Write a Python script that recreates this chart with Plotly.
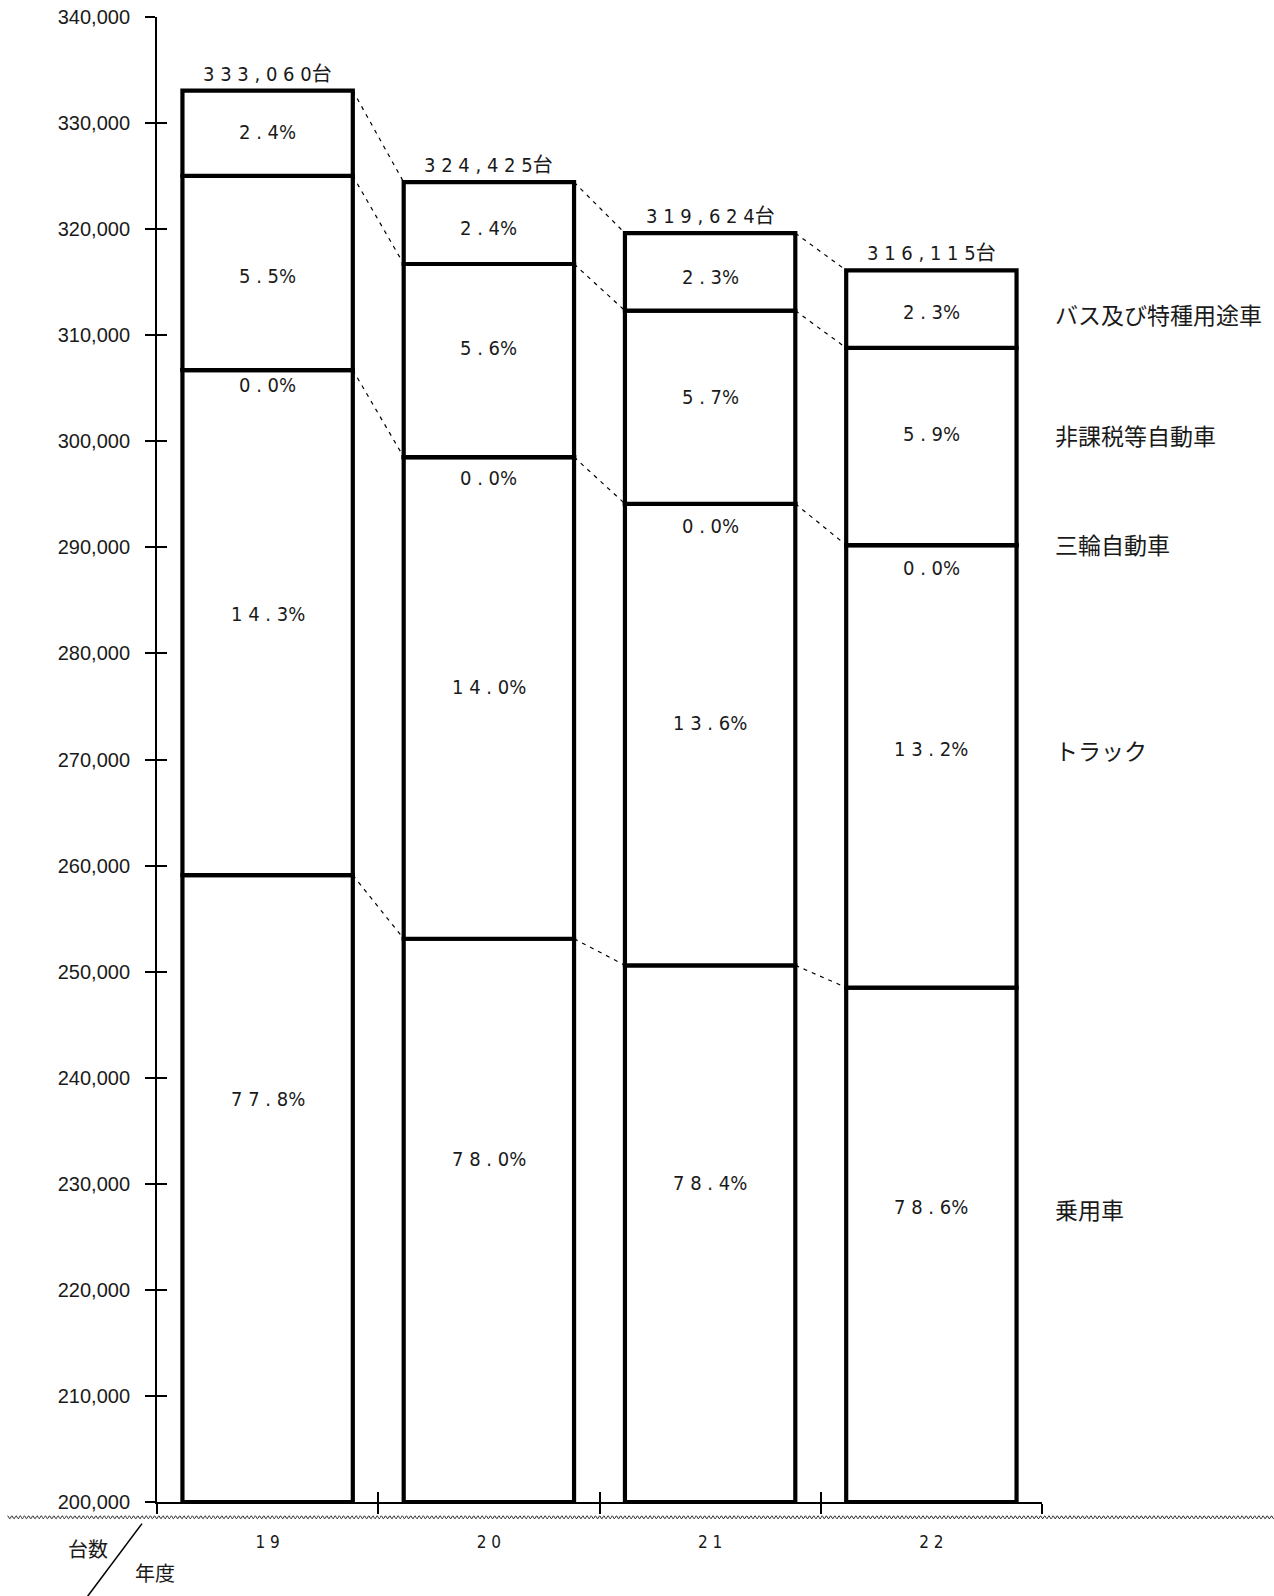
import numpy as np
import plotly.graph_objects as go

# ---------------- data ----------------
year_labels = ["19", "20", "21", "22"]
totals = [333060, 324425, 319624, 316115]
passenger = [259100, 253100, 250600, 248500]   # 乗用車
truck = [47600, 45400, 43500, 41700]           # トラック
three = [20, 15, 12, 10]                       # 三輪自動車
nontax = [18300, 18200, 18200, 18600]          # 非課税等自動車
bus = [8040, 7710, 7312, 7305]                 # バス及び特種用途車

passenger_pct = ["77.8", "78.0", "78.4", "78.6"]
truck_pct = ["14.3", "14.0", "13.6", "13.2"]
three_pct = ["0.0", "0.0", "0.0", "0.0"]
nontax_pct = ["5.5", "5.6", "5.7", "5.9"]
bus_pct = ["2.4", "2.4", "2.3", "2.3"]

categories = ["乗用車", "トラック", "三輪自動車", "非課税等自動車", "バス及び特種用途車"]
y_tick_values = list(range(200000, 340001, 10000))

# ---------------- layout constants (page pixels) ----------------
OFF = 0                      # body margin removed by post_script below
W, H = 1274, 1596
PL, PR, PT, PB = 156.7, 1042, 16.7, 1501.7   # plot area in page pixels
L, R, T, B = PL - OFF, PR - OFF, PT - OFF, PB - OFF
AXIS_MIN, AXIS_MAX = 200000, 340000
BAR_W = 0.77
NUM_FONT = "Liberation Sans Narrow, DejaVu Sans Condensed, Noto Sans CJK JP, sans-serif"
JP_FONT = "Noto Sans CJK JP, sans-serif"
TXT = "#1a1a1a"

# label placement nudges in pixels (positive = up), per segment per bar
PASS_SHIFT = -220
THREE_SHIFT = -21
LABEL_NUDGE = [
    [-4, 0, 2, 1],      # passenger
    [9, 11, 12, 17],    # truck
    [6, 0, -1, -2],     # three-wheel
    [-3, 13, 10, 12],   # non-taxable
    [1, -5, -5, -3],    # bus
]
RIGHT_NUDGE = [-1, 16, 1, 11, -5]


def pxx(px):
    return (px - OFF - L) / (R - L)


def pxy(py):
    return (B - (py - OFF)) / (B - T)


def spaced(s):
    return " ".join(s)


x = list(range(len(year_labels)))
series = [passenger, truck, three, nontax, bus]
pcts = [passenger_pct, truck_pct, three_pct, nontax_pct, bus_pct]

fig = go.Figure()

bases_all = []
tops_all = []
for k, vals in enumerate(series):
    if k == 0:
        base = [AXIS_MIN] * len(x)
        top = list(vals)
    else:
        base = tops_all[-1]
        top = [b + v for b, v in zip(base, vals)]
    bases_all.append(base)
    tops_all.append(top)
    fig.add_trace(go.Bar(
        x=x, y=[t - b for t, b in zip(top, base)], base=base, width=BAR_W,
        marker=dict(color="white", line=dict(color="black", width=4.2)),
        name=categories[k], showlegend=False, hoverinfo="skip"))

# dashed connectors between boundaries
for lvl in [0, 2, 3, 4]:
    tops = tops_all[lvl]
    xs, ys = [], []
    for i in range(len(x) - 1):
        xs += [x[i] + BAR_W / 2, x[i + 1] - BAR_W / 2, None]
        ys += [tops[i], tops[i + 1], None]
    fig.add_trace(go.Scatter(x=xs, y=ys, mode="lines",
                             line=dict(color="black", width=1.2, dash="4px,5px"),
                             showlegend=False, hoverinfo="skip"))

# invisible helper trace so the overlay axes (crossing ticks) are drawn
fig.add_trace(go.Scatter(x=x, y=totals, xaxis="x2", yaxis="y2", mode="markers",
                         marker=dict(opacity=0), showlegend=False, hoverinfo="skip"))


def label_pos(k, i):
    if k == 0:
        return tops_all[0][i], PASS_SHIFT
    if k == 2:
        return tops_all[2][i], THREE_SHIFT
    return (bases_all[k][i] + tops_all[k][i]) / 2, 0


annotations = []
for i in x:
    annotations.append(dict(x=i, y=totals[i], xref="x", yref="y",
                            text=spaced(f"{totals[i]:,}") + "台", showarrow=False,
                            yanchor="bottom", yshift=3,
                            font=dict(family=NUM_FONT, size=20, color=TXT)))
    for k in range(len(series)):
        yv, ys = label_pos(k, i)
        annotations.append(dict(x=i, y=yv, xref="x", yref="y",
                                text=spaced(pcts[k][i]) + "%",
                                showarrow=False, yanchor="middle",
                                yshift=ys + LABEL_NUDGE[k][i],
                                font=dict(family=NUM_FONT, size=20, color=TXT)))

last = len(x) - 1
for k in range(len(series)):
    yv, ys = label_pos(k, last)
    if k == 2:
        ys = 0
    annotations.append(dict(x=1, y=yv, xref="paper", yref="y", text=categories[k],
                            showarrow=False, xanchor="left", yanchor="middle",
                            xshift=11, yshift=ys + RIGHT_NUDGE[k],
                            font=dict(family=JP_FONT, size=23, color=TXT)))

annotations.append(dict(x=pxx(88), y=pxy(1548), xref="paper", yref="paper", text="台数",
                        showarrow=False, xanchor="center", yanchor="middle",
                        font=dict(family=JP_FONT, size=20, color=TXT)))
annotations.append(dict(x=pxx(155), y=pxy(1572), xref="paper", yref="paper", text="年度",
                        showarrow=False, xanchor="center", yanchor="middle",
                        font=dict(family=JP_FONT, size=20, color=TXT)))

wx = np.arange(7, 1274 + 1, 1.0)
wy = 1517 + 1.6 * np.sin(wx / 4.2 * 2 * np.pi)
path = "M " + " L ".join(f"{pxx(a):.5f},{pxy(b):.5f}" for a, b in zip(wx, wy))
shapes = [
    dict(type="path", xref="paper", yref="paper", path=path,
         line=dict(color="#333", width=1)),
    dict(type="line", xref="paper", yref="paper", x0=pxx(141.7), y0=pxy(1523.3),
         x1=pxx(87.3), y1=pxy(1596), line=dict(color="black", width=1.5)),
]

boundaries = [i - 0.5 for i in x] + [x[-1] + 0.5]

fig.update_layout(
    width=W, height=H,
    margin=dict(l=L, r=W - R, t=T, b=H - B, pad=0, autoexpand=False),
    paper_bgcolor="white", plot_bgcolor="white",
    barmode="overlay",
    showlegend=False,
    annotations=annotations,
    shapes=shapes,
    xaxis=dict(range=[-0.5, len(x) - 0.5], tickvals=x,
               ticktext=[spaced(s) for s in year_labels],
               ticks="outside", ticklen=24, tickcolor="rgba(0,0,0,0)",
               showline=True, linecolor="black", linewidth=2,
               showgrid=False, zeroline=False, automargin=False,
               ticklabeloverflow="allow",
               tickfont=dict(family=NUM_FONT, size=17, color=TXT),
               minor=dict(tickvals=boundaries, ticks="outside", ticklen=10,
                          tickwidth=2, tickcolor="black")),
    xaxis2=dict(overlaying="x", range=[-0.5, len(x) - 0.5], tickvals=boundaries,
                ticks="inside", ticklen=10, tickwidth=2, tickcolor="black",
                showticklabels=False, showline=False, showgrid=False, zeroline=False),
    yaxis=dict(range=[AXIS_MIN, AXIS_MAX], tickvals=y_tick_values,
               ticktext=[f"{v:,}" for v in y_tick_values],
               ticks="outside", ticklen=10, tickwidth=2, tickcolor="black",
               showline=True, linecolor="black", linewidth=2,
               showgrid=False, zeroline=False, automargin=False,
               ticklabelstandoff=11, ticklabeloverflow="allow",
               tickfont=dict(family="Liberation Sans, Arial, sans-serif", size=20, color=TXT)),
    yaxis2=dict(overlaying="y", range=[AXIS_MIN, AXIS_MAX], tickvals=y_tick_values,
                ticks="inside", ticklen=10, tickwidth=2, tickcolor="black",
                showticklabels=False, showline=False, showgrid=False, zeroline=False,
                side="left"),
)

fig.write_html("out.html",
               config={"displayModeBar": False},
               post_script="document.body.style.margin='0';document.body.style.overflow='hidden';")
